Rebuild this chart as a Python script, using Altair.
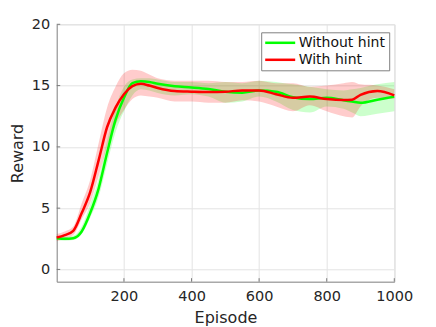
import altair as alt
import pandas as pd

episodes = [1, 25, 50, 75, 100, 125, 150, 175, 200, 225, 250, 275, 300, 350, 400, 450,
            500, 550, 600, 650, 700, 750, 800, 850, 875, 900, 950, 1000]

with_mean = [2.6, 2.8, 3.15, 4.6, 6.3, 8.9, 11.6, 13.2, 14.3, 14.95, 15.15, 15.0, 14.8, 14.55,
             14.5, 14.47, 14.5, 14.6, 14.6, 14.3, 14.0, 14.1, 13.9, 13.82, 13.85, 14.25, 14.55, 14.2]
with_low = [2.3, 2.5, 2.8, 4.1, 5.4, 7.6, 10.0, 11.8, 13.0, 13.9, 14.2, 14.1, 14.0, 13.7,
            13.7, 13.6, 13.6, 13.8, 13.7, 13.3, 12.9, 13.4, 12.9, 12.5, 12.4, 13.3, 14.0, 13.9]
with_high = [2.9, 3.1, 3.5, 5.4, 7.3, 10.3, 13.2, 14.9, 16.0, 16.3, 16.2, 15.9, 15.6, 15.4,
             15.4, 15.4, 15.3, 15.3, 15.4, 15.2, 15.2, 14.9, 15.0, 15.2, 15.3, 15.1, 15.0, 14.7]

without_mean = [2.55, 2.5, 2.55, 3.1, 4.6, 6.6, 9.5, 12.2, 14.0, 15.2, 15.35, 15.3, 15.15, 14.95,
                14.85, 14.72, 14.5, 14.42, 14.6, 14.5, 14.05, 13.9, 14.0, 13.8, 13.7, 13.6, 13.85, 14.1]
without_low = [2.4, 2.35, 2.4, 2.9, 4.2, 5.9, 8.6, 11.2, 12.9, 14.2, 14.7, 14.6, 14.4, 14.2,
               14.3, 14.1, 13.6, 13.7, 14.1, 13.7, 13.0, 12.8, 13.3, 13.1, 12.8, 12.5, 12.7, 12.9]
without_high = [2.7, 2.65, 2.75, 3.5, 5.3, 7.4, 10.5, 13.2, 14.9, 15.5, 15.6, 15.6, 15.5, 15.3,
                15.3, 15.2, 15.3, 15.2, 15.4, 15.3, 15.1, 14.9, 14.7, 14.6, 14.7, 14.8, 15.1, 15.3]

series_names = ["Without hint", "With hint"]
series_colors = ["#00ff00", "#ff0000"]
x_ticks = [200, 400, 600, 800, 1000]
y_ticks = [0, 5, 10, 15, 20]

rows = []
for name, m, lo, hi in [("Without hint", without_mean, without_low, without_high),
                        ("With hint", with_mean, with_low, with_high)]:
    for e, a, b, c in zip(episodes, m, lo, hi):
        rows.append({"Episode": e, "Reward": a, "Low": b, "High": c, "Series": name})
df = pd.DataFrame(rows)

W, H = 337.6, 257.4
FONT = "DejaVu Sans"
xscale = alt.Scale(domain=[1, 1000], nice=False, zero=False)
yscale = alt.Scale(domain=[-1, 20], nice=False, zero=False)

xaxis = alt.Axis(values=x_ticks, title="Episode", grid=True, ticks=False, format="d",
                 labelPadding=8, titlePadding=6, labelFontSize=14.5, titleFontSize=16,
                 labelFont=FONT, titleFont=FONT, titleFontWeight="normal",
                 labelColor="#262626", titleColor="#262626", domainColor="#8c8c8c",
                 gridColor="#e3e3e3", labelFlush=False)
yaxis = alt.Axis(values=y_ticks, title="Reward", grid=True, ticks=False,
                 labelPadding=7, titlePadding=6, labelFontSize=14.5, titleFontSize=16,
                 labelFont=FONT, titleFont=FONT, titleFontWeight="normal",
                 labelColor="#262626", titleColor="#262626", domainColor="#8c8c8c",
                 gridColor="#e3e3e3")

layers = []
for name, col in zip(series_names, series_colors):
    layers.append(
        alt.Chart(df[df.Series == name]).mark_area(
            color=col, opacity=0.2, interpolate="monotone"
        ).encode(
            x=alt.X("Episode:Q", scale=xscale, axis=xaxis),
            y=alt.Y("High:Q", scale=yscale, axis=yaxis),
            y2="Low:Q",
        )
    )

lines = alt.Chart(df).mark_line(strokeWidth=2.5, interpolate="monotone").encode(
    x=alt.X("Episode:Q", scale=xscale, axis=xaxis),
    y=alt.Y("Reward:Q", scale=yscale, axis=yaxis),
    color=alt.Color("Series:N", scale=alt.Scale(domain=series_names, range=series_colors),
                    legend=alt.Legend(title=None, orient="none", legendX=204.5, legendY=8,
                                      fillColor="white", strokeColor="#808080", padding=3.5,
                                      symbolType="M-1.3,0H4.7", symbolSize=100, symbolStrokeWidth=2.5,
                                      labelFontSize=14, labelFont=FONT, labelColor="#111111",
                                      labelOffset=20, rowPadding=3)),
    order=alt.Order("Series:N", sort="descending"),
)

# inward tick marks (MATLAB style)
xtick_marks = alt.Chart(pd.DataFrame({"t": x_ticks})).mark_rule(color="#7a7a7a", strokeWidth=1).encode(
    x=alt.X("t:Q", scale=xscale, axis=xaxis), y=alt.value(H), y2=alt.value(H - 3.5))
ytick_marks = alt.Chart(pd.DataFrame({"t": y_ticks})).mark_rule(color="#7a7a7a", strokeWidth=1).encode(
    y=alt.Y("t:Q", scale=yscale, axis=yaxis), x=alt.value(0), x2=alt.value(3.5))

chart = alt.layer(*layers, lines, xtick_marks, ytick_marks).properties(
    width=W, height=H,
    autosize=alt.AutoSizeParams(type="none"),
    padding={"left": 48.7, "top": 16.3, "right": 30, "bottom": 45},
).configure_view(stroke=None).configure(background="white")

chart.save("out.html", embed_options={"renderer": "svg", "actions": False})
